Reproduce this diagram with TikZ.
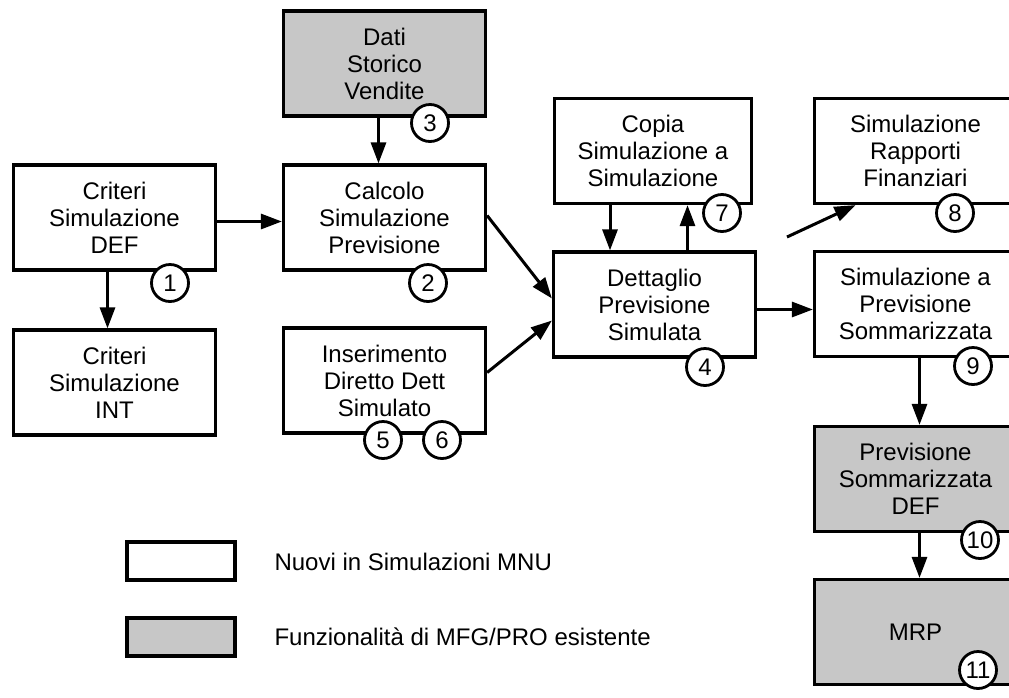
\documentclass[tikz,border=0pt]{standalone}
\usepackage{fontspec}
\setmainfont{Liberation Sans}
\usepackage{tikz}
\usetikzlibrary{arrows.meta,calc}

\begin{document}
\begin{tikzpicture}[x=1pt,y=-1pt,
    proc_box/.style={rectangle,draw,line width=3.2pt,minimum width=202pt,minimum height=105pt,
        align=center,inner sep=0pt,font=\fontsize{24}{27}\selectfont},
    old_box/.style={proc_box,fill=black!22},
    num_node/.style={circle,draw,fill=white,line width=2.8pt,minimum size=37pt,inner sep=0pt,
        font=\fontsize{24}{24}\selectfont},
    key_box/.style={rectangle,draw,line width=3.2pt,minimum width=108pt,minimum height=38pt},
    flow/.style={line width=3pt,-{Triangle[length=21pt,width=15pt]}}]

    \useasboundingbox (0,0) rectangle (1009,697);
    \clip (0,0) rectangle (1009,697);

	\node[old_box] (dati) at (384.5, 63.5) {Dati\\Storico\\Vendite};
    \node[proc_box] (crdef) at (114.5, 217.5) {Criteri\\Simulazione\\DEF};
    \node[proc_box] (crint) at (114.5, 382.5) {Criteri\\Simulazione\\INT};
    \node[proc_box] (calc) at (384.5, 217.5) {Calcolo\\Simulazione\\Previsione};
    \node[proc_box] (ins) at (384.5, 380.5) {Inserimento\\Diretto Dett\\Simulato};
    \node[proc_box, minimum width=197pt] (copia) at (653, 151) {Copia\\Simulazione a\\Simulazione};
    \node[proc_box] (dett) at (654.5, 304.5) {Dettaglio\\Previsione\\Simulata};
    \node[proc_box] (rapp) at (915.5, 151) {Simulazione\\Rapporti\\Finanziari};
    \node[proc_box] (simprev) at (915.5, 304) {Simulazione a\\Previsione\\Sommarizzata};
    \node[old_box] (prevdef) at (915.5, 479) {Previsione\\Sommarizzata\\DEF};
    \node[old_box] (mrp) at (915.5, 632) {MRP};

    % legenda
    \node[key_box] (keynew) at (181, 561) {};
    \node[key_box, fill=black!22] (keyold) at (181, 637) {};
    \node[anchor=west, font=\fontsize{24}{27}\selectfont] (txtnew) at (271, 562) {Nuovi in Simulazioni MNU};
    \node[anchor=west, font=\fontsize{24}{27}\selectfont] (txtold) at (271, 637) {Funzionalità di MFG/PRO esistente};

    \coordinate (rappin) at (787, 237);

    \draw[flow] ([yshift=-4pt]crdef.east) -- ([yshift=-4pt]crdef.east -| calc.west);
    \draw[flow] ([xshift=-7pt]crdef.south) -- ([xshift=-7pt]crint.north);
    \draw[flow] ([xshift=-6pt]dati.south) -- ([xshift=-6pt]calc.north);
    \draw[flow] ([yshift=2pt]calc.east) -- ([yshift=6pt]dett.west);
    \draw[flow] ([yshift=8pt]ins.east) -- ([yshift=-16pt]dett.west);
    \draw[flow] ([xshift=-43pt]copia.south) -- ([xshift=-43pt]copia.south |- dett.north);
    \draw[flow] ([xshift=33pt]dett.north) -- ([xshift=33pt]dett.north |- copia.south);
    \draw[flow] (rappin) -- ([xshift=-60pt]rapp.south);
    \draw[flow] ([yshift=-5pt]dett.east) -- ([yshift=-5pt]dett.east -| simprev.west);
    \draw[flow] ([xshift=4pt]simprev.south) -- ([xshift=4pt]prevdef.north);
    \draw[flow] ([xshift=4pt]prevdef.south) -- ([xshift=4pt]mrp.north);

    \node[num_node] (n1) at (170, 283) {1};
    \node[num_node] (n2) at (428, 283) {2};
    \node[num_node] (n3) at (430, 123) {3};
    \node[num_node] (n4) at (705, 367) {4};
    \node[num_node] (n5) at (383, 440) {5};
    \node[num_node] (n6) at (442, 440) {6};
    \node[num_node] (n7) at (722, 213) {7};
    \node[num_node] (n8) at (955, 213) {8};
    \node[num_node] (n9) at (973, 366) {9};
    \node[num_node] (n10) at (980, 540) {10};
    \node[num_node] (n11) at (978, 670) {11};

\end{tikzpicture}
\end{document}
